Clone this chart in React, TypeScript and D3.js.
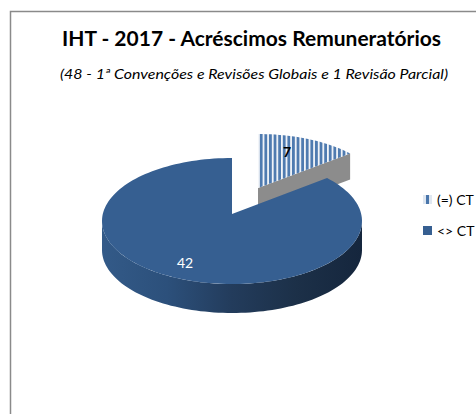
import React from "react";
import * as d3 from "d3";

const categories = ["(=) CT", "<> CT"];
const values = [7, 42];
const title = "IHT - 2017 - Acréscimos Remuneratórios";
const subtitle = "(48 -  1ª Convenções e Revisões  Globais e 1 Revisão  Parcial)";

const W = 476, H = 414;
const deg = Math.PI / 180;
const blue = "#365f91";

type Disc = { cx: number; cy: number; rx: number; ry: number; ax: number; ay: number };
const mainDisc: Disc = { cx: 232, cy: 221, rx: 130, ry: 63, ax: 232, ay: 214 };
const sliceDisc: Disc = { cx: 258, cy: 195, rx: 126, ry: 61, ax: 258, ay: 188 };
const depth = 29;

const pie = d3.pie<number>().sort(null)(values);
// perspective foreshortening: pie angle -> angle on the drawn ellipse
const persp = d3.scaleLinear().domain([0, pie[0].endAngle, 2 * Math.PI]).range([0, 47 * deg, 2 * Math.PI]);

const pt = (d: Disc, a: number): [number, number] => [d.cx + d.rx * Math.sin(a), d.cy - d.ry * Math.cos(a)];
const arcPts = (d: Disc, a0: number, a1: number) => {
  const n = Math.max(8, Math.ceil(Math.abs(a1 - a0) / (2 * deg)));
  return d3.range(n + 1).map((i) => pt(d, a0 + ((a1 - a0) * i) / n));
};
const line = d3.line();
const wedge = (d: Disc, s: d3.PieArcDatum<number>) =>
  line([[d.ax, d.ay], ...arcPts(d, persp(s.startAngle), persp(s.endAngle))])! + "Z";

const wallPts = arcPts(mainDisc, 90 * deg, 270 * deg);
const wallPath =
  line([...wallPts, ...wallPts.slice().reverse().map(([x, y]) => [x, y + depth] as [number, number])])! + "Z";

const [cornerX, cornerY] = pt(sliceDisc, persp(pie[0].endAngle));
const cutPath =
  line([
    [sliceDisc.ax, sliceDisc.ay],
    [cornerX, cornerY],
    [cornerX, cornerY + 26],
    [sliceDisc.ax, sliceDisc.ay + 26],
  ])! + "Z";

const gradStops: [number, string][] = [
  [0, "#335a88"],
  [0.25, "#2c507b"],
  [0.5, "#233c5c"],
  [0.75, "#1c3048"],
  [1, "#15263d"],
];

export default function App() {
  const font = "Lato, 'Open Sans', sans-serif";
  return (
    <svg width={W} height={H} viewBox={`0 0 ${W} ${H}`} style={{ position: "fixed", left: 0, top: 0, background: "#fff" }}>
      <defs>
        <pattern id="hatch" width={4.6} height={8} patternUnits="userSpaceOnUse" x={258}>
          <rect width={4.6} height={8} fill="#f2f5f9" />
          <rect x={1.8} width={2.8} height={8} fill="#4f7bb0" />
        </pattern>
        <pattern id="hatchLegend" width={6} height={8} patternUnits="userSpaceOnUse" x={423}>
          <rect width={6} height={8} fill="#dfe7f1" />
          <rect x={3} width={3} height={8} fill="#4a76ab" />
        </pattern>
        <linearGradient id="wall" gradientUnits="userSpaceOnUse" x1={102} x2={361} y1={0} y2={0}>
          {gradStops.map(([o, c]) => (
            <stop key={o} offset={o} stopColor={c} />
          ))}
        </linearGradient>
      </defs>

      <path d={`M10.5 ${H}V11.5H${W}`} fill="none" stroke="#8a8a8a" strokeWidth={1.5} />

      <text x={62} y={46} fontFamily={font} fontWeight={700} fontSize={20} textLength={379} lengthAdjust="spacingAndGlyphs" fill="#000">
        {title}
      </text>
      <text x={60} y={79} fontFamily={font} fontStyle="italic" fontSize={14} textLength={388} lengthAdjust="spacingAndGlyphs" fill="#000">
        {subtitle}
      </text>

      <path d={cutPath} fill="#8c8c8c" />
      <path d={wedge(sliceDisc, pie[0])} fill="url(#hatch)" />
      <path d={wallPath} fill="url(#wall)" />
      <path d={wedge(mainDisc, pie[1])} fill={blue} />

      <text x={287} y={157} textAnchor="middle" fontFamily={font} fontWeight={700} fontSize={14} fill="#000">
        {values[0]}
      </text>
      <text x={185} y={268} textAnchor="middle" fontFamily={font} fontSize={14} fill="#fff">
        {values[1]}
      </text>

      {categories.map((c, i) => (
        <g key={c}>
          <rect x={423} y={195 + i * 31} width={9} height={9} fill={i === 0 ? "url(#hatchLegend)" : blue} />
          <text x={437} y={205 + i * 31} fontFamily={font} fontSize={14} fill="#000">
            {c}
          </text>
        </g>
      ))}
    </svg>
  );
}
